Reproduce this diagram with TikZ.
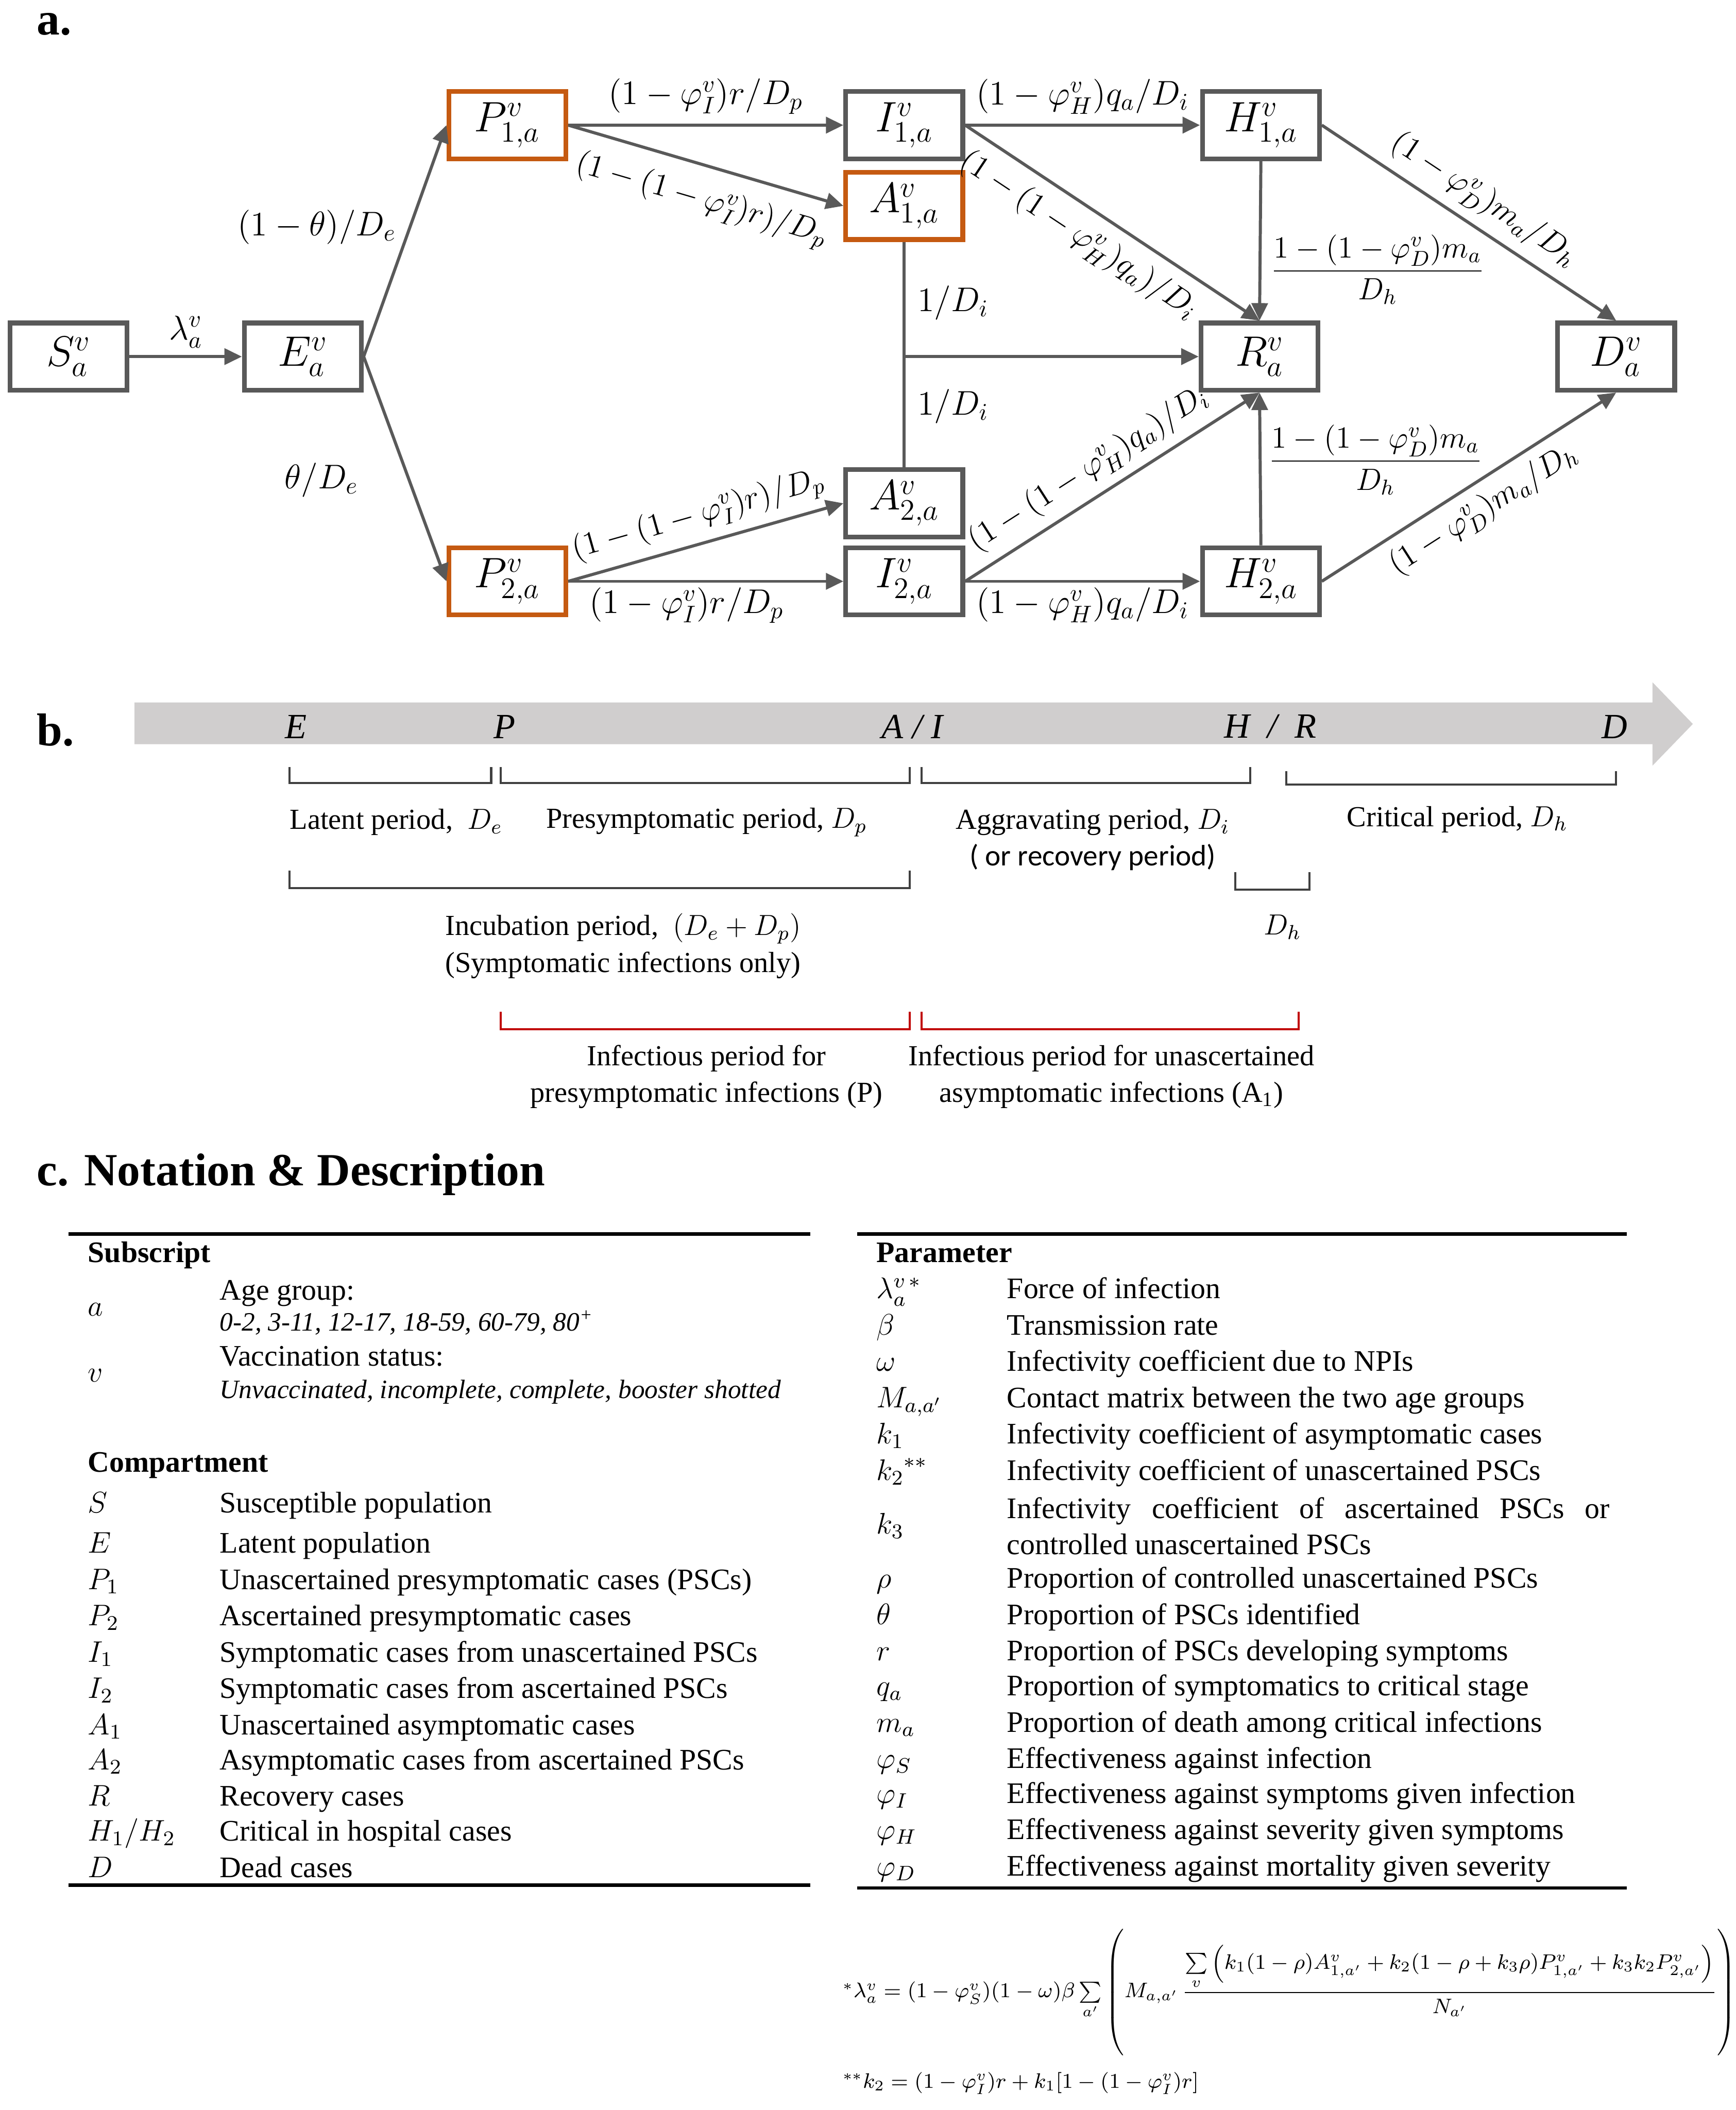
\RequirePackage{fix-cm}
\documentclass[tikz,border=0pt]{standalone}
\usepackage{amsmath,amssymb}
\usepackage{fontspec}
\setmainfont{Liberation Serif}
\newfontfamily\calfont{Carlito}
\usepackage{xcolor}
\usepackage{tikz}
\usetikzlibrary{arrows.meta,positioning}

\definecolor{boxgray}{HTML}{595959}
\definecolor{orng}{HTML}{C55A11}
\definecolor{bargray}{HTML}{D0CECE}
\definecolor{brkgray}{HTML}{404040}
\definecolor{brkred}{HTML}{C00000}

\begin{document}
\begin{tikzpicture}[
  x=0.02cm, y=-0.02cm,
  comp/.style  = {draw=boxgray, line width=2pt, minimum width=1.74cm,
                  minimum height=1cm, inner sep=0pt,
                  font=\fontsize{18}{20}\selectfont},
  comporg/.style = {comp, draw=orng},
  arr/.style   = {-{Triangle[length=2.6mm,width=2.4mm]}, line width=1.3pt,
                  draw=boxgray},
  ln/.style    = {line width=1.3pt, draw=boxgray},
  lbl/.style   = {font=\fontsize{14.5}{17}\selectfont, inner sep=1pt},
  slbl/.style  = {font=\fontsize{13.5}{16}\selectfont, inner sep=1pt, sloped},
  frc/.style   = {font=\fontsize{13}{15}\selectfont, inner sep=1pt},
  panel/.style = {font=\fontsize{19.5}{22}\selectfont\bfseries,
                  anchor=base west, inner sep=0pt},
  stage/.style = {font=\fontsize{15}{18}\selectfont\itshape},
  txt/.style   = {font=\fontsize{12.3}{15.5}\selectfont, inner sep=0pt},
  brk/.style   = {draw=brkgray, line width=0.9pt},
  brkr/.style  = {draw=brkred, line width=0.9pt},
  rule/.style  = {line width=1.5pt},
  hd/.style    = {font=\fontsize{12.6}{15}\selectfont\bfseries, anchor=base west,
                  inner sep=0pt},
  sym/.style   = {font=\fontsize{12.6}{15}\selectfont, anchor=base west,
                  inner sep=0pt},
  dsc/.style   = {font=\fontsize{12.6}{15.3}\selectfont, anchor=base west,
                  inner sep=0pt},
  dsci/.style  = {font=\fontsize{11.2}{13}\selectfont\itshape,
                  anchor=base west, inner sep=0pt},
  fml/.style   = {font=\fontsize{8.9}{11}\selectfont, inner sep=0pt}
]
\useasboundingbox (0,0) rectangle (1290,1568);

%% Panel labels
\node[panel] (pa) at (27,26)  {a.};
\node[panel] (pb) at (27,554) {b.};
\node[panel] (pc) at (27,881) {c. Notation \& Description};

%% Compartments
\node[comp]    (s)  at (51,265)   {$S_a^v$};
\node[comp]    (e)  at (225,265)  {$E_a^v$};
\node[comporg] (p1) at (377,93)   {$P_{1,a}^v$};
\node[comporg] (p2) at (377,432)  {$P_{2,a}^v$};
\node[comp]    (i1) at (672,93)   {$I_{1,a}^v$};
\node[comporg] (a1) at (672,153)  {$A_{1,a}^v$};
\node[comp]    (a2) at (672,374)  {$A_{2,a}^v$};
\node[comp]    (i2) at (672,432)  {$I_{2,a}^v$};
\node[comp]    (h1) at (937,93)   {$H_{1,a}^v$};
\node[comp]    (r)  at (936,265)  {$R_a^v$};
\node[comp]    (d)  at (1201,265) {$D_a^v$};
\node[comp]    (h2) at (937,432)  {$H_{2,a}^v$};

%% Transitions
\draw[arr] (s) -- node[lbl,above=2pt] (lse) {$\lambda_a^v$} (e);
\draw[arr] (e.east) -- node[lbl,pos=0.56,left=0.15cm] (lep1) {$(1-\theta)/D_e$} (p1.west);
\draw[arr] (e.east) -- node[lbl,pos=0.55,left=0.7cm] (lep2) {$\theta/D_e$} (p2.west);
\draw[arr] (p1.east) -- node[lbl,above=3pt] (lpi1) {$(1-\varphi_I^v)r/D_p$} (i1.west);
\draw[arr] (p1.east) -- node[slbl,pos=0.52,below=6pt] (lpa1) {$(1-(1-\varphi_I^v)r)/D_p$} (a1.west);
\draw[arr] (p2.east) -- node[slbl,pos=0.5,above=3pt] (lpa2) {$(1-(1-\varphi_I^v)r)/D_p$} (a2.west);
\draw[arr] (p2.east) -- node[lbl,pos=0.43,below=1pt] (lpi2) {$(1-\varphi_I^v)r/D_p$} (i2.west);
\draw[arr] (i1.east) -- node[lbl,above=3pt] (lih1) {$(1-\varphi_H^v)q_a/D_i$} (h1.west);
\draw[arr] (i2.east) -- node[lbl,below=1pt] (lih2) {$(1-\varphi_H^v)q_a/D_i$} (h2.west);
\draw[arr] (i1.east) -- node[slbl,pos=0.44,below=4pt] (lir1) {$(1-(1-\varphi_H^v)q_a)/D_i$} (r.north);
\draw[arr] (i2.east) -- node[slbl,pos=0.47,above=3pt] (lir2) {$(1-(1-\varphi_H^v)q_a)/D_i$} (r.south);
\draw[arr] (h1.south) -- node[frc,pos=0.68,right=3pt] (lhr1) {$\dfrac{1-(1-\varphi_D^v)m_a}{D_h}$} (r.north);
\draw[arr] (h2.north) -- node[frc,pos=0.56,right=2pt] (lhr2) {$\dfrac{1-(1-\varphi_D^v)m_a}{D_h}$} (r.south);
\draw[arr] (h1.east) -- node[slbl,above=3pt] (lhd1) {$(1-\varphi_D^v)m_a/D_h$} (d.north);
\draw[arr] (h2.east) -- node[slbl,below=3pt] (lhd2) {$(1-\varphi_D^v)m_a/D_h$} (d.south);
\draw[ln] (a1.south) -- node[lbl,pos=0.27,right=4pt] (lar1) {$1/D_i$}
                        node[lbl,pos=0.73,right=4pt] (lar2) {$1/D_i$} (a2.north);
\coordinate (aj) at (a1.south |- r.west);
\draw[arr] (aj) -- (r.west);

%% Timeline
\fill[bargray] (100,522) -- (1228,522) -- (1228,507) -- (1258,538)
  -- (1228,569) -- (1228,553) -- (100,553) -- cycle;
\foreach \x/\st [count=\k] in {220/E,375/P,678/{A / I},944/{H \ / \ R},1200/D}{
  \node[stage] (st\k) at (\x,540) {\st};}
%% Period brackets
\foreach \xa/\xb/\ya/\yb in {215/365/570/582, 372/676/570/582, 685/929/570/582,
                             956/1201/573/583, 215/676/647/660, 918/973/648/661}{
  \draw[brk] (\xa,\ya) |- (\xb,\yb) -- (\xb,\ya);}
\foreach \xa/\xb in {372/676, 685/965}{
  \draw[brkr] (\xa,752) |- (\xb,765) -- (\xb,752);}
\node[txt,anchor=west] (lat) at (215,611) {Latent period,\ \ $D_e$};
\node[txt] (pre) at (525,611) {Presymptomatic period, $D_p$};
\node[txt] (agg) at (812,611) {Aggravating period, $D_i$};
\node[txt,font=\calfont\fontsize{12.5}{15}\selectfont,below=0.52cm of agg.center,anchor=center] (rec) {( or recovery period)};
\node[txt] (cri) at (1083,609) {Critical period, $D_h$};
\node[txt,align=center] (inc) at (463,703) {Incubation period,\ \ $(D_e+D_p)$\\(Symptomatic infections only)};
\node[txt] (dh) at (953,689) {$D_h$};
\node[txt,align=center] (infp) at (525,800) {Infectious period for\\presymptomatic infections (P)};
\node[txt,align=center] (infa) at (826,800) {Infectious period for unascertained\\asymptomatic infections (A\textsubscript{1})};

%% Notation tables
\draw[rule] (51,917) -- (602,917);
\draw[rule] (51,1401) -- (602,1401);
\draw[rule] (637,917) -- (1209,917);
\draw[rule] (637,1403) -- (1209,1403);

\node[hd] (sub) at (65,938) {Subscript};
\node[sym] (syma) at (65,978) {$a$};
\node[dsc] (agea) at (163,966) {Age group:};
\node[dsci] (ageb) at (163,989) {0-2, 3-11, 12-17, 18-59, 60-79, 80\textsuperscript{+}};
\node[sym] (symv) at (65,1027) {$v$};
\node[dsc] (vaca) at (163,1015) {Vaccination status:};
\node[dsci] (vacb) at (163,1039) {Unvaccinated, incomplete, complete, booster shotted};
\node[hd] (cmp) at (65,1094) {Compartment};
\foreach \y/\sm/\tx in {1118/S/Susceptible population, 1148/E/Latent population,
    1175/P_1/Unascertained presymptomatic cases (PSCs),
    1202/P_2/Ascertained presymptomatic cases,
    1229/I_1/Symptomatic cases from unascertained PSCs,
    1256/I_2/Symptomatic cases from ascertained PSCs,
    1283/A_1/Unascertained asymptomatic cases,
    1309/A_2/Asymptomatic cases from ascertained PSCs,
    1336/R/Recovery cases, 1362/{H_1/H_2}/Critical in hospital cases,
    1389/D/Dead cases}{
  \node[sym] (cs\y) at (65,\y+6) {$\sm$};
  \node[dsc] (cd\y) at (163,\y+6) {\tx};}

\node[hd] (par) at (651,938) {Parameter};
\foreach \y/\sm/\tx in {959/{\lambda_a^{v\,*}}/Force of infection,
    986/\beta/Transmission rate, 1013/\omega/Infectivity coefficient due to NPIs,
    1040/{M_{a,a'}}/Contact matrix between the two age groups,
    1067/k_1/Infectivity coefficient of asymptomatic cases,
    1094/{{k_2}^{**}}/Infectivity coefficient of unascertained PSCs,
    1174/\rho/Proportion of controlled unascertained PSCs,
    1201/\theta/Proportion of PSCs identified,
    1228/r/Proportion of PSCs developing symptoms,
    1254/q_a/Proportion of symptomatics to critical stage,
    1281/m_a/Proportion of death among critical infections,
    1308/\varphi_S/Effectiveness against infection,
    1334/\varphi_I/Effectiveness against symptoms given infection,
    1361/\varphi_H/Effectiveness against severity given symptoms,
    1388/\varphi_D/Effectiveness against mortality given severity}{
  \node[sym] (ps\y) at (651,\y+6) {$\sm$};
  \node[dsc] (pd\y) at (748,\y+6) {\tx};}
\node[sym] (psk3) at (651,1140) {$k_3$};
\node[dsc,anchor=west,text width=8.96cm,align=justify] (pdk3) at (748,1134)
  {Infectivity coefficient of ascertained PSCs or\linebreak controlled unascertained PSCs};

%% Footnote formulas
\node[fml,anchor=west] (lam) at (626,1481) {${}^{*}\lambda_a^v=(1-\varphi_S^v)(1-\omega)\beta\sum\limits_{a'}\left(M_{a,a'}\,\dfrac{\sum\limits_{v}\left(k_1(1-\rho)A^v_{1,a'}+k_2(1-\rho+k_3\rho)P^v_{1,a'}+k_3k_2P^v_{2,a'}\right)}{N_{a'}}\vphantom{\rule[-2.8em]{0pt}{6em}}\right)$};
\node[fml,anchor=west] (k2f) at (626,1548) {${}^{**}k_2=(1-\varphi_I^v)r+k_1[1-(1-\varphi_I^v)r]$};
\end{tikzpicture}
\end{document}
